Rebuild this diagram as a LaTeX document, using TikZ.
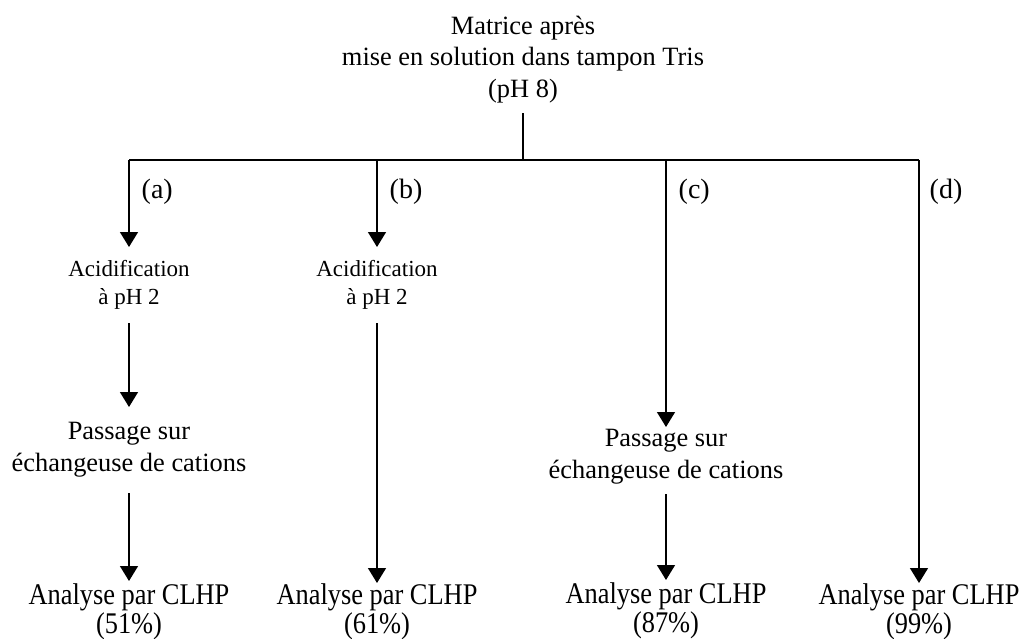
\documentclass[tikz,border=0pt]{standalone}
\usepackage{fontspec}
\setmainfont{Liberation Serif}
\newfontfamily\narrowserif{Liberation Serif}[FakeStretch=0.88]
\usetikzlibrary{arrows.meta}

\begin{document}
\begin{tikzpicture}[%
    x=0.5pt, y=-0.5pt,
    ->,
    >={Triangle[length=7.5pt,width=9pt]},
    line width=0.7pt,
    headbox/.style={%
      align=center,
      inner xsep=0pt,
      inner ysep=4.6pt,
      font=\fontsize{13.2}{15.8}\selectfont
    },
    stepbox/.style={%
      align=center,
      anchor=north,
      inner xsep=0pt,
      font=\fontsize{13.2}{16}\selectfont
    },
    acidbox/.style={%
      stepbox,
      inner ysep=6.5pt,
      font=\fontsize{11.5}{14}\selectfont
    },
    resultbox/.style={%
      stepbox,
      inner ysep=0pt,
      font=\narrowserif\fontsize{15}{13}\selectfont
    },
    branchlabel/.style={%
      anchor=west,
      inner sep=0pt,
      font=\fontsize{14}{16}\selectfont
    }
  ]
    \useasboundingbox (0,0) rectangle (1023,638);

    \node[headbox] (matrice) [anchor=south] at (523,113)
      {Matrice après\\mise en solution dans tampon Tris\\(pH 8)};

    \coordinate (hub) at (523,160);
    \coordinate (ta)  at (129,160);
    \coordinate (tb)  at (377,160);
    \coordinate (tc)  at (666,160);
    \coordinate (td)  at (919,160);

    \node[acidbox] (acidA) at (129,247) {Acidification\\à pH 2};
    \node[stepbox] (passA) [inner ysep=7.5pt] at (129,407) {Passage sur\\échangeuse de cations};
    \node[resultbox] (anaA) [inner ysep=1pt] at (129,581) {Analyse par CLHP\\(51\%)};
    \node[acidbox] (acidB) at (377,247) {Acidification\\à pH 2};
    \node[resultbox] (anaB) at (377,583) {Analyse par CLHP\\(61\%)};
    \node[stepbox] (passC) [inner ysep=1pt] at (666,427) {Passage sur\\échangeuse de cations};
    \node[resultbox] (anaC) [inner ysep=1pt] at (666,580) {Analyse par CLHP\\(87\%)};
    \node[resultbox] (anaD) at (919,583) {Analyse par CLHP\\(99\%)};

    \node[branchlabel] (la) at (141,192) {(a)};
    \node[branchlabel] (lb) at (389,192) {(b)};
    \node[branchlabel] (lc) at (678,192) {(c)};
    \node[branchlabel] (ld) at (929,192) {(d)};

    \draw[-] (matrice) -- (hub);
    \draw[-] (ta) -- (td);

    \path (ta) edge (acidA)
          (acidA) edge (passA)
          (passA) edge (anaA)
          (tb) edge (acidB)
          (acidB) edge (anaB)
          (tc) edge (passC)
          (passC) edge [shorten <=3.5pt] (anaC)
          (td) edge (anaD)
          ;
  \end{tikzpicture}
\end{document}
